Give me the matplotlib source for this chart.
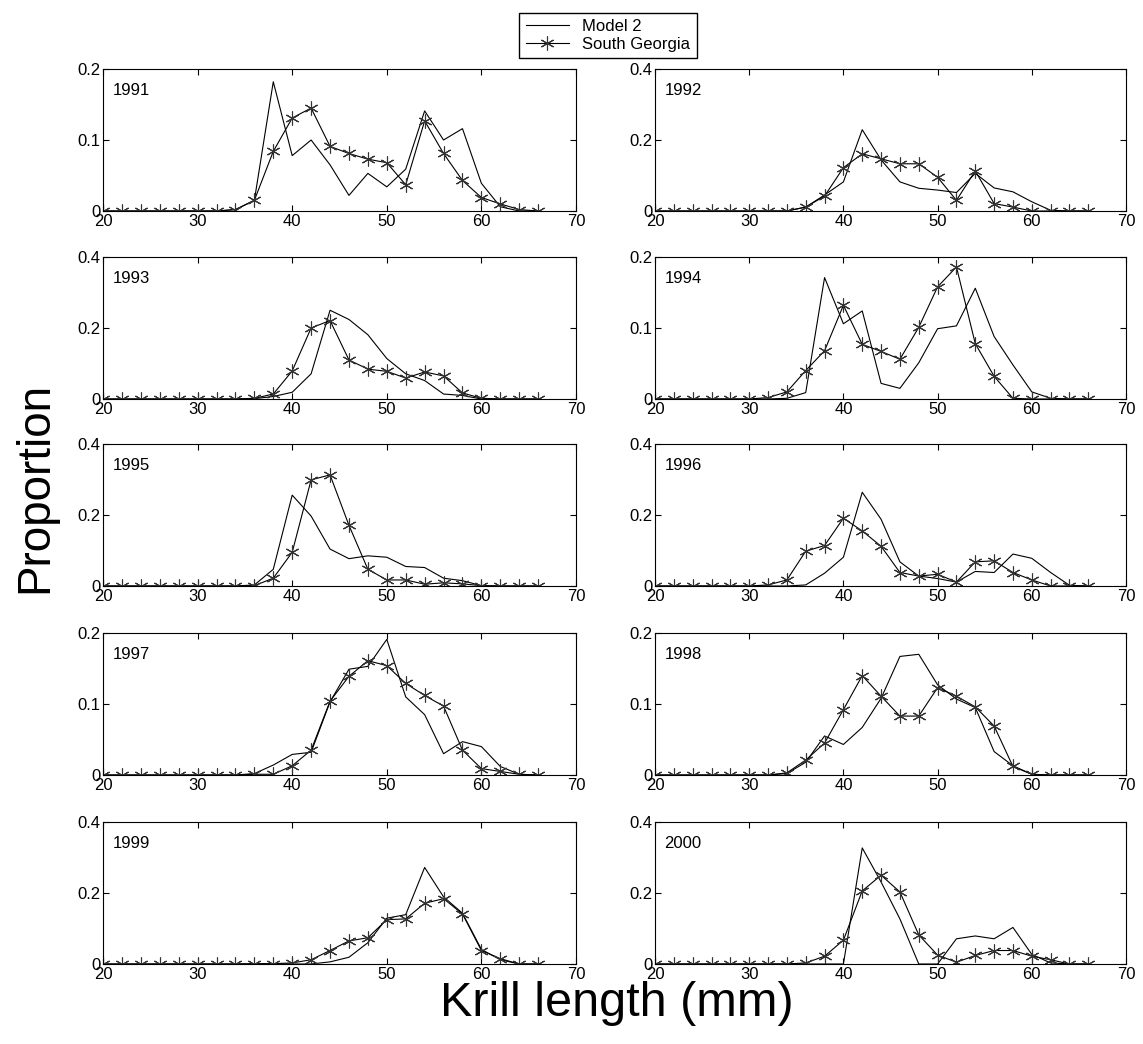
import matplotlib.pyplot as plt
from matplotlib.lines import Line2D

lengths = list(range(20, 68, 2))  # 20 .. 66 mm

years = ["1991", "1992", "1993", "1994", "1995",
         "1996", "1997", "1998", "1999", "2000"]
ytop = [0.2, 0.4, 0.4, 0.2, 0.4, 0.4, 0.2, 0.2, 0.4, 0.4]

#          20 22 24 26 28 30 32 34     36     38     40     42     44     46     48     50     52     54     56     58     60     62     64     66
model = {
    "1991": [0, 0, 0, 0, 0, 0, 0, 0.002, 0.015, 0.182, 0.078, 0.100, 0.065, 0.022, 0.053, 0.034, 0.059, 0.141, 0.100, 0.116, 0.039, 0.006, 0, 0],
    "1992": [0, 0, 0, 0, 0, 0, 0, 0, 0.011, 0.045, 0.082, 0.229, 0.144, 0.082, 0.064, 0.059, 0.052, 0.106, 0.065, 0.054, 0.026, 0.002, 0, 0],
    "1993": [0, 0, 0, 0, 0, 0, 0, 0, 0.001, 0.007, 0.019, 0.071, 0.250, 0.224, 0.181, 0.114, 0.071, 0.052, 0.014, 0.010, 0, 0, 0, 0],
    "1994": [0, 0, 0, 0, 0, 0, 0, 0.001, 0.009, 0.171, 0.106, 0.124, 0.022, 0.015, 0.051, 0.099, 0.103, 0.156, 0.088, 0.048, 0.010, 0.001, 0, 0],
    "1995": [0, 0, 0, 0, 0, 0, 0, 0, 0.003, 0.047, 0.256, 0.197, 0.104, 0.077, 0.085, 0.081, 0.055, 0.052, 0.022, 0.015, 0.001, 0, 0, 0],
    "1996": [0, 0, 0, 0, 0, 0, 0, 0, 0.003, 0.036, 0.081, 0.264, 0.188, 0.068, 0.028, 0.021, 0.011, 0.041, 0.038, 0.090, 0.078, 0.038, 0.002, 0],
    "1997": [0, 0, 0, 0, 0, 0, 0, 0, 0.002, 0.014, 0.029, 0.032, 0.103, 0.149, 0.153, 0.191, 0.110, 0.085, 0.030, 0.047, 0.040, 0.012, 0.001, 0],
    "1998": [0, 0, 0, 0, 0, 0, 0, 0.002, 0.018, 0.055, 0.043, 0.067, 0.108, 0.167, 0.170, 0.127, 0.107, 0.095, 0.033, 0.013, 0.001, 0, 0, 0],
    "1999": [0, 0, 0, 0, 0, 0, 0, 0, 0, 0, 0, 0, 0.006, 0.019, 0.060, 0.129, 0.139, 0.272, 0.189, 0.143, 0.041, 0.012, 0, 0],
    "2000": [0, 0, 0, 0, 0, 0, 0, 0, 0, 0, 0, 0.327, 0.231, 0.127, 0, 0, 0.071, 0.079, 0.071, 0.103, 0.027, 0.003, 0, 0],
}

south_georgia = {
    "1991": [0, 0, 0, 0, 0, 0, 0, 0.002, 0.015, 0.084, 0.131, 0.145, 0.091, 0.081, 0.073, 0.068, 0.037, 0.127, 0.081, 0.043, 0.019, 0.010, 0.002, 0],
    "1992": [0, 0, 0, 0, 0, 0, 0, 0, 0.011, 0.042, 0.122, 0.161, 0.147, 0.133, 0.133, 0.095, 0.030, 0.113, 0.021, 0.011, 0, 0, 0, 0],
    "1993": [0, 0, 0, 0, 0, 0, 0, 0, 0.002, 0.014, 0.079, 0.200, 0.221, 0.110, 0.084, 0.078, 0.059, 0.076, 0.065, 0.017, 0.002, 0, 0, 0],
    "1994": [0, 0, 0, 0, 0, 0, 0.002, 0.010, 0.040, 0.068, 0.132, 0.077, 0.067, 0.056, 0.101, 0.158, 0.186, 0.078, 0.032, 0.001, 0, 0, 0, 0],
    "1995": [0, 0, 0, 0, 0, 0, 0, 0, 0.001, 0.022, 0.095, 0.299, 0.313, 0.171, 0.047, 0.017, 0.017, 0.005, 0.009, 0.006, 0.001, 0, 0, 0],
    "1996": [0, 0, 0, 0, 0, 0, 0.003, 0.017, 0.098, 0.114, 0.191, 0.155, 0.112, 0.038, 0.028, 0.033, 0.011, 0.068, 0.071, 0.038, 0.017, 0, 0, 0],
    "1997": [0, 0, 0, 0, 0, 0, 0, 0, 0.001, 0.001, 0.013, 0.035, 0.104, 0.139, 0.161, 0.154, 0.129, 0.112, 0.097, 0.035, 0.009, 0.005, 0.001, 0],
    "1998": [0, 0, 0, 0, 0, 0, 0, 0.003, 0.021, 0.045, 0.092, 0.140, 0.111, 0.083, 0.083, 0.123, 0.111, 0.096, 0.069, 0.012, 0.001, 0, 0, 0],
    "1999": [0, 0, 0, 0, 0, 0, 0, 0, 0.001, 0.001, 0.003, 0.012, 0.038, 0.065, 0.074, 0.125, 0.127, 0.171, 0.184, 0.141, 0.038, 0.015, 0, 0],
    "2000": [0, 0, 0, 0, 0, 0, 0, 0, 0.003, 0.022, 0.067, 0.206, 0.250, 0.203, 0.082, 0.025, 0.005, 0.024, 0.038, 0.038, 0.022, 0.012, 0, 0],
}

W, H = 1143, 1044
plt.rcParams["font.family"] = ["Liberation Sans", "DejaVu Sans"]
fig = plt.figure(figsize=(W / 100, H / 100), dpi=100)

col_left = [103, 655]
col_width = [473, 471]
row_top = [69, 257, 444, 633, 822]
row_h = 142

star = (6, 2, 0)

for i, year in enumerate(years):
    r, c = divmod(i, 2)
    left = col_left[c] / W
    bottom = 1 - (row_top[r] + row_h) / H
    ax = fig.add_axes([left, bottom, col_width[c] / W, row_h / H])
    ax.plot(lengths, model[year], color="black", lw=0.8)
    ax.plot(lengths, south_georgia[year], color="black", lw=0.8,
            marker=star, markersize=10, markeredgewidth=0.8,
            markeredgecolor="#333333")
    ax.set_xlim(20, 70)
    ax.set_ylim(0, ytop[i])
    ax.set_xticks([20, 30, 40, 50, 60, 70])
    top = ytop[i]
    ax.set_yticks([0, top / 2, top])
    ax.set_yticklabels(["0", f"{top / 2:g}", f"{top:g}"])
    ax.tick_params(direction="in", top=True, right=True, length=4,
                   width=0.8, labelsize=12, pad=2)
    for s in ax.spines.values():
        s.set_linewidth(0.8)
    ax.text(0.02, 0.9, year, transform=ax.transAxes, fontsize=12,
            va="top", ha="left")

fig.text(0.031, 0.533, "Proportion", rotation=90, fontsize=33,
         ha="center", va="center")
fig.text(0.54, 0.027, "Krill length (mm)", fontsize=35,
         ha="center", va="baseline")

handles = [
    Line2D([], [], color="black", lw=0.8),
    Line2D([], [], color="black", lw=0.8, marker=star, markersize=10,
           markeredgewidth=0.8, markeredgecolor="#333333"),
]
fig.legend(handles, ["Model 2", "South Georgia"], loc="upper center",
           bbox_to_anchor=(0.532, 0.996), fontsize=12, frameon=True,
           fancybox=False, edgecolor="black", framealpha=1,
           handlelength=2.6, borderpad=0.4, labelspacing=0.15)

fig.savefig("out.png", dpi=100)
